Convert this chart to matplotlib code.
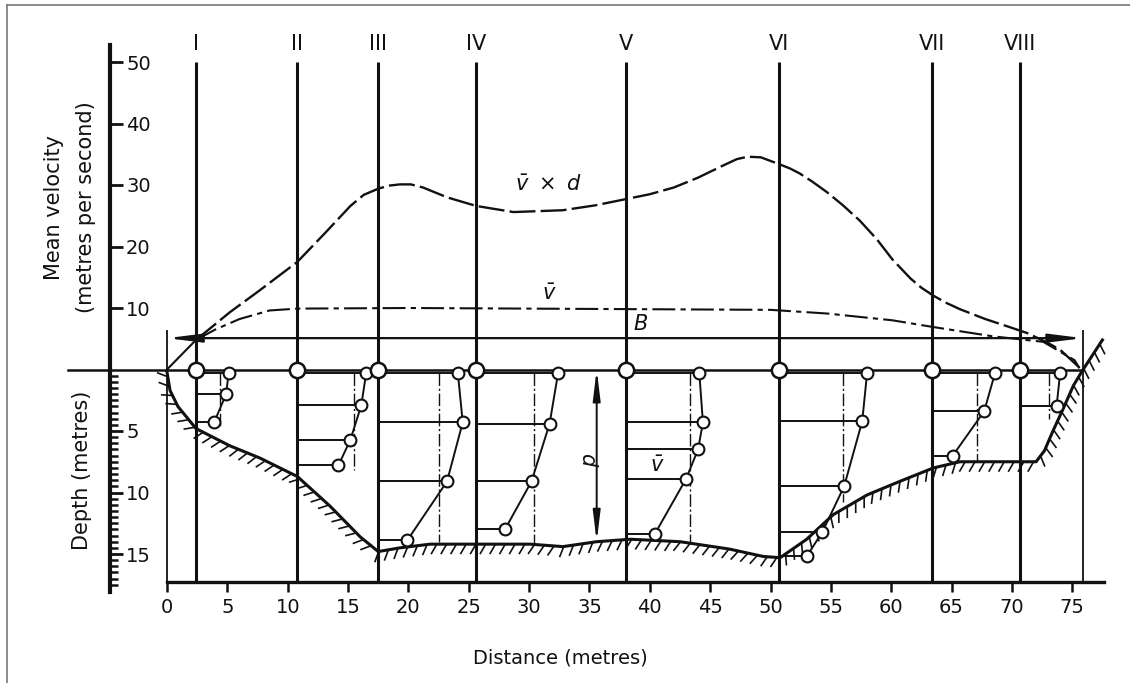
import matplotlib
matplotlib.use('Agg')
import matplotlib.pyplot as plt
import matplotlib.patheffects as pe
from matplotlib.lines import Line2D
import numpy as np

plt.rcParams['font.family'] = ['DejaVu Sans']
plt.rcParams['mathtext.fontset'] = 'dejavusans'

INK = '#111111'

# measuring verticals (distance across the section, m)
vert_names = ['I', 'II', 'III', 'IV', 'V', 'VI', 'VII', 'VIII']
vert_x = [2.4, 10.8, 17.5, 25.6, 38.0, 50.7, 63.4, 70.7]

# channel bed: distance (m) and depth (m)
bed_x = [0.0, 0.25, 0.9, 2.4, 5.2, 7.7, 10.8, 13.5, 16.0, 17.5, 19.3, 21.8, 25.6, 30.1,
         32.8, 35.6, 38.4, 42.5, 46.6, 49.4, 50.8, 53.0, 55.2, 58.0, 60.7, 63.5, 65.7,
         71.3, 72.0, 72.7, 73.4, 74.2, 75.1, 75.9, 77.5]
bed_d = [0.2, 1.7, 3.0, 4.8, 6.2, 7.2, 8.7, 11.1, 13.6, 14.8, 14.5, 14.2, 14.2, 14.2,
         14.4, 14.0, 13.8, 14.0, 14.6, 15.2, 15.3, 13.8, 11.8, 10.2, 9.1, 8.0, 7.5,
         7.5, 7.5, 6.6, 5.0, 3.3, 1.3, 0.0, -2.4]

# mean velocity x depth across the section
vd_x = [0.0, 2.4, 5.2, 7.7, 10.8, 13.1, 15.2, 16.3, 17.5, 18.4, 19.3, 20.2, 21.2, 22.2,
        23.2, 25.6, 28.7, 32.8, 35.5, 38.0, 40.0, 42.0, 44.0, 46.0, 47.2, 48.1, 49.2,
        50.7, 51.6, 52.4, 53.5, 54.7, 56.0, 57.4, 58.8, 60.1, 61.6, 62.5, 63.5, 64.6,
        65.7, 67.8, 69.8, 71.3, 73.0, 74.0, 75.6]
vd_v = [0.0, 4.8, 9.3, 12.9, 17.5, 22.2, 26.6, 28.4, 29.4, 29.9, 30.1, 30.1, 29.6, 28.8,
        28.0, 26.6, 25.6, 25.9, 26.7, 27.7, 28.5, 29.6, 31.2, 33.1, 34.2, 34.6, 34.5,
        33.4, 32.7, 31.9, 30.5, 28.8, 26.7, 24.2, 21.2, 17.9, 14.8, 13.3, 12.0, 10.8,
        9.8, 8.2, 6.9, 5.9, 4.3, 3.2, 0.3]

# mean velocity across the section
vbar_x = [0.0, 2.4, 4.0, 6.0, 8.5, 10.8, 20.0, 30.0, 40.0, 50.0, 54.7, 60.1, 63.5,
          68.4, 72.6, 75.2, 75.6]
vbar_v = [0.0, 4.8, 6.5, 8.2, 9.6, 9.9, 10.0, 9.9, 9.8, 9.7, 9.1, 8.0, 6.9,
          5.4, 4.5, 1.5, 0.2]

# velocity profile at each vertical: plotted position (m) and depth (m) of each reading
prof_x = [[5.1, 4.9, 3.9],
          [16.5, 16.1, 15.2, 14.2],
          [24.1, 24.5, 23.2, 19.9],
          [32.4, 31.7, 30.2, 28.0],
          [44.1, 44.4, 44.0, 43.0, 40.4],
          [58.0, 57.6, 56.1, 54.3, 53.0],
          [68.6, 67.7, 65.1],
          [74.0, 73.7]]
prof_d = [[0.3, 2.0, 4.3],
          [0.3, 2.9, 5.7, 7.8],
          [0.3, 4.3, 9.1, 13.9],
          [0.3, 4.4, 9.1, 13.0],
          [0.25, 4.3, 6.5, 8.9, 13.4],
          [0.3, 4.2, 9.5, 13.2, 15.2],
          [0.3, 3.4, 7.0],
          [0.25, 3.0]]
# mean of each profile: position (m) and depth where the line stops (m)
mean_x = [4.4, 15.5, 22.5, 30.4, 43.3, 56.0, 67.1, 73.1]
mean_end = [4.6, 8.2, 14.0, 14.2, 14.0, 10.8, 7.5, 4.0]

width_B = [0.0, 75.9]
level_B = 5.1
d_at = 35.6
d_depth = 14.0

vel_ticks = [10, 20, 30, 40, 50]
depth_ticks = [5, 10, 15]
dist_ticks = list(range(0, 80, 5))


def dep(d):
    # depth axis is drawn at twice the velocity scale, downwards from the surface
    return -2.0 * np.asarray(d, dtype=float)


W, H = 1130, 683
fig = plt.figure(figsize=(W / 100, H / 100), dpi=100)

# axes box in pixels: x -4.72..78 m -> 110..1108 px, y -36.2..52.8 -> 592..45 px
px_per_m = 12.07
px_per_v = 6.15
x0, x1 = -4.72, 78.0
y0, y1 = -36.2, 52.8
left = (167 + x0 * px_per_m) / W
right = (167 + x1 * px_per_m) / W
top_px = 369.5 - y1 * px_per_v
bot_px = 369.5 - y0 * px_per_v
ax = fig.add_axes([left, 1 - bot_px / H, right - left, (bot_px - top_px) / H])
ax.set_xlim(x0, x1)
ax.set_ylim(y0, y1)
ax.patch.set_alpha(0)

x_axis_y = -34.6

# spines and ticks
ax.spines['top'].set_visible(False)
ax.spines['left'].set_visible(False)
ax.spines['right'].set_position(('axes', 0))
ax.spines['right'].set_linewidth(3.0)
ax.spines['right'].set_color(INK)
ax.spines['bottom'].set_position(('data', x_axis_y))
ax.spines['bottom'].set_bounds(0, 77.6)
ax.spines['bottom'].set_linewidth(2.4)
ax.spines['bottom'].set_color(INK)

ax.yaxis.tick_right()
yt = list(vel_ticks) + list(dep(depth_ticks))
yl = [str(v) for v in vel_ticks] + [str(d) for d in depth_ticks]
ax.set_yticks(yt)
ax.set_yticklabels(yl)
minor = [y for y in np.arange(-1, -36, -1) if y not in yt]
ax.set_yticks(minor, minor=True)
ax.tick_params(axis='y', which='major', direction='out', length=9, width=2.0,
               pad=2.5, labelsize=14, colors=INK)
ax.tick_params(axis='y', which='minor', direction='out', length=6, width=1.8,
               colors=INK)
ax.set_xticks(dist_ticks)
ax.tick_params(axis='x', which='major', direction='out', length=7, width=1.8,
               pad=4, labelsize=14, colors=INK)

# measuring verticals and their numbers
ax.vlines(vert_x, x_axis_y, 50, colors=INK, lw=2.2, clip_on=False)
for name, xv in zip(vert_names, vert_x):
    ax.text(xv, 52.9, name, ha='center', va='center', fontsize=15, color=INK)

# banks of the section
ax.vlines(width_B, x_axis_y, 6.4, colors=INK, lw=1.3, clip_on=False)

# water surface
ax.plot([-8.2, width_B[1]], [0, 0], color=INK, lw=1.8, clip_on=False)

# width B
ax.annotate('', xy=(width_B[0], level_B), xytext=(width_B[1], level_B),
            arrowprops=dict(arrowstyle='<|-|>,head_length=2.0,head_width=0.25',
                            color=INK, lw=1.6, shrinkA=0, shrinkB=0))
ax.text(39.2, 7.4, r'$B$', ha='center', va='center', fontsize=15, color=INK)

# channel bed with ground hatching
ax.plot(bed_x, dep(bed_d), color=INK, lw=2.2, clip_on=False,
        path_effects=[pe.withTickedStroke(angle=-120, spacing=7, length=1.1,
                                          linewidth=1.2)])

# mean velocity and velocity x depth
ax.plot(vd_x[:2], vd_v[:2], color=INK, lw=1.5)
ax.plot(vd_x[1:], vd_v[1:], color=INK, lw=1.7, dashes=(11, 2.2))
ax.plot(vbar_x[1:], vbar_v[1:], color=INK, lw=1.5, dashes=(11, 2.5, 2.5, 2.5))
ax.text(31.6, 30.0, r'$\bar{v}\ \times\ d$', ha='center', va='center',
        fontsize=15, color=INK)
ax.text(31.7, 12.3, r'$\bar{v}$', ha='center', va='center', fontsize=15, color=INK)

# velocity profiles
for xv, px_, pd_, mx, me in zip(vert_x, prof_x, prof_d, mean_x, mean_end):
    py = dep(pd_)
    for xp, yp in zip(px_, py):
        ax.plot([xv, xp], [yp, yp], color=INK, lw=1.4)
    ax.plot(px_, py, color=INK, lw=1.4)
    ax.plot([mx, mx], [dep(0.3), dep(me)], color=INK, lw=1.0,
            dashes=(9, 2, 1.5, 2))
    ax.plot(px_, py, 'o', ms=8.5, mfc='white', mec=INK, mew=1.5)

ax.text(40.6, -15.7, r'$\bar{v}$', ha='center', va='center', fontsize=15, color=INK)

# surface readings at the verticals
ax.plot(vert_x, np.zeros(len(vert_x)), 'o', ms=11, mfc='white', mec=INK, mew=1.8,
        zorder=5)

# depth d
ax.annotate('', xy=(d_at, 0), xytext=(d_at, dep(d_depth)),
            arrowprops=dict(arrowstyle='<|-|>,head_length=1.8,head_width=0.22',
                            color=INK, lw=1.4, shrinkA=0, shrinkB=0))
ax.text(34.9, -14.7, r'$d$', ha='center', va='center', fontsize=15, color=INK,
        rotation=-90)

# axis titles
fig.text(54 / W, 1 - 207 / H, 'Mean velocity', rotation=90, ha='center',
         va='center', fontsize=15, color=INK)
fig.text(86 / W, 1 - 207 / H, '(metres per second)', rotation=90, ha='center',
         va='center', fontsize=15, color=INK)
fig.text(82 / W, 1 - 470 / H, 'Depth (metres)', rotation=90, ha='center',
         va='center', fontsize=15, color=INK)
fig.text(560 / W, 1 - 658 / H, 'Distance (metres)', ha='center', va='center',
         fontsize=14, color=INK)

# page frame
fig.add_artist(Line2D([7 / W, 1], [1 - 5 / H, 1 - 5 / H], color='#777777', lw=1.2))
fig.add_artist(Line2D([7 / W, 7 / W], [0, 1 - 5 / H], color='#777777', lw=1.2))

fig.savefig('out.png', dpi=100)
